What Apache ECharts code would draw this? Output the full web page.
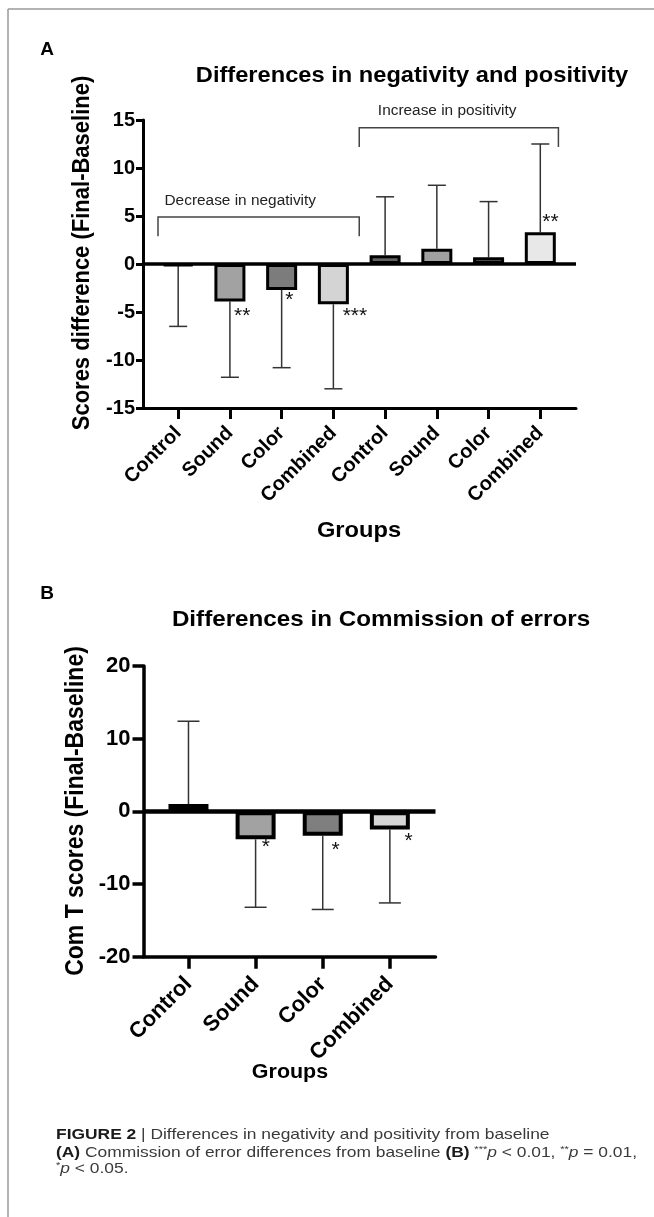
<!DOCTYPE html>
<html>
<head>
<meta charset="utf-8">
<script src="https://cdn.jsdelivr.net/npm/echarts@6/dist/echarts.min.js"></script>
<style>
html,body{margin:0;padding:0;background:#fff;}
#chart{width:654px;height:1217px;}
</style>
</head>
<body>
<div id="chart"></div>
<script>
// ---------- DATA ----------
const catsA = ['Control','Sound','Color','Combined','Control','Sound','Color','Combined'];
const meanA = [-0.2, -3.9, -2.7, -4.2, 0.9, 1.6, 0.7, 3.3];
const errEndA = [-6.5, -11.8, -10.8, -13.0, 7.0, 8.2, 6.5, 12.5];
const yTicksA = [-15, -10, -5, 0, 5, 10, 15];
const starTextA = ['**', '*', '***', '**'];
const starXA = [1.08, 2.07, 3.18, 7.04];
const starYA = [-5.4, -3.75, -5.4, 4.4];
const bracketLabelsA = ['Decrease in negativity', 'Increase in positivity'];
const bracketFromA = [-0.39, 3.5];
const bracketToA = [3.5, 7.35];
const bracketTopA = [4.9, 14.2];
const bracketEndA = [2.9, 12.2];
const bracketLabelXA = [1.2, 5.2];
const bracketLabelYA = [6.5, 15.9];

const catsB = ['Control','Sound','Color','Combined'];
const meanB = [1.0, -3.85, -3.35, -2.5];
const errEndB = [12.4, -13.2, -13.5, -12.6];
const yTicksB = [-20, -10, 0, 10, 20];
const starTextB = ['*', '*', '*'];
const starXB = [1.09, 2.13, 3.22];
const starYB = [-4.9, -5.3, -4.1];

const titleA = 'Differences in negativity and positivity';
const titleB = 'Differences in Commission of errors';
const yNameA = 'Scores difference (Final-Baseline)';
const yNameB = 'Com T scores (Final-Baseline)';
const xName = 'Groups';

// ---------- STYLE ----------
const FF = '"Liberation Sans", Arial, Helvetica, sans-serif';
const colorsA = ['#3a3a3a','#a2a2a2','#7c7c7c','#d4d4d4','#626262','#a0a0a0','#626262','#e8e8e8'];
const colorsB = ['#000000','#a2a2a2','#7f7f7f','#d6d6d6'];
const SX = 1.1; // the figure's text is slightly wide

const chart = echarts.init(document.getElementById('chart'), null, {renderer:'canvas'});

function xAxisCfg(grid, cats, min, max, fontSize, margin, tickLen, lw){
  const idx = cats.map((c,i)=>i);
  return {
    gridIndex: grid, type:'value', min:min, max:max,
    axisLine:{show:true, onZero:false, lineStyle:{color:'#000', width:lw}},
    axisTick:{show:true, customValues:idx, length:tickLen, lineStyle:{color:'#000', width:lw}},
    axisLabel:{customValues:idx, formatter:(v)=>cats[Math.round(v)], rotate:45, margin:margin,
      fontFamily:FF, fontWeight:'bold', fontSize:fontSize, color:'#000'},
    splitLine:{show:false}
  };
}
function yAxisCfg(grid, ticks, fontSize, margin, tickLen, lw){
  return {
    gridIndex: grid, type:'value', min:ticks[0], max:ticks[ticks.length-1], interval:ticks[1]-ticks[0],
    axisLine:{show:true, onZero:false, lineStyle:{color:'#000', width:lw}},
    axisTick:{show:true, length:tickLen, lineStyle:{color:'#000', width:lw}},
    axisLabel:{margin:margin, fontFamily:FF, fontWeight:'bold', fontSize:fontSize, color:'#000'},
    splitLine:{show:false}
  };
}
function barSeries(ai, means, colors, bw, border){
  return {
    type:'bar', xAxisIndex:ai, yAxisIndex:ai, barWidth:bw, z:3,
    data: means.map((v,i)=>({value:[i, v], itemStyle:{color:colors[i]}})),
    itemStyle:{borderColor:'#000', borderWidth:border},
    emphasis:{disabled:true},
    markLine:{silent:true, symbol:['none','none'], label:{show:false}, animation:false,
      lineStyle:{color:'#000', width:border+0.5, type:'solid'}, data:[{yAxis:0}], z:5}
  };
}
function errSeries(ai, means, ends, cap){
  return {
    type:'custom', xAxisIndex:ai, yAxisIndex:ai, z:2, clip:false,
    data: means.map((v,i)=>[i, v, ends[i]]),
    renderItem:(params, api)=>{
      const p0 = api.coord([api.value(0), api.value(1)]);
      const p1 = api.coord([api.value(0), api.value(2)]);
      const st = {stroke:'#333', lineWidth:1.5};
      return {type:'group', children:[
        {type:'line', shape:{x1:p0[0], y1:p0[1], x2:p1[0], y2:p1[1]}, style:st},
        {type:'line', shape:{x1:p1[0]-cap/2, y1:p1[1], x2:p1[0]+cap/2, y2:p1[1]}, style:st}
      ]};
    }
  };
}
function starSeries(ai, xs, ys, texts, fs){
  return {
    type:'custom', xAxisIndex:ai, yAxisIndex:ai, z:6, clip:false,
    data: xs.map((x,i)=>[x, ys[i]]),
    renderItem:(params, api)=>{
      const p = api.coord([api.value(0), api.value(1)]);
      return {type:'text', x:p[0], y:p[1], style:{text:texts[params.dataIndex], fontFamily:FF, fontSize:fs, fill:'#111', align:'left', verticalAlign:'middle'}};
    }
  };
}
const bracketSeries = {
  type:'custom', xAxisIndex:0, yAxisIndex:0, z:6, clip:false,
  data: bracketFromA.map((f,i)=>[f, bracketToA[i], bracketTopA[i], bracketEndA[i], bracketLabelXA[i], bracketLabelYA[i]]),
  renderItem:(params, api)=>{
    const x0 = api.value(0), x1 = api.value(1), yt = api.value(2), ye = api.value(3);
    const pts = [api.coord([x0, ye]), api.coord([x0, yt]), api.coord([x1, yt]), api.coord([x1, ye])];
    const lp = api.coord([api.value(4), api.value(5)]);
    return {type:'group', children:[
      {type:'polyline', shape:{points:pts}, style:{stroke:'#444', lineWidth:1.5, fill:null}},
      {type:'text', x:lp[0], y:lp[1], scaleX:SX, style:{text:bracketLabelsA[params.dataIndex], fontFamily:FF, fontSize:14, fill:'#222', align:'center', verticalAlign:'middle'}}
    ]};
  }
};

function txt(text, x, y, size, el){
  return Object.assign({type:'text', x:x, y:y, style:{text:text, fontFamily:FF, fontSize:size, fontWeight:'bold', fill:'#000', align:'center', verticalAlign:'middle'}}, el||{});
}

const CS = 15;
const capRich = {
  b:{fontFamily:FF, fontSize:CS, fontWeight:'bold', fill:'#1a1a1a'},
  i:{fontFamily:FF, fontSize:CS, fontStyle:'italic', fill:'#3a3a3a'},
  s:{fontFamily:FF, fontSize:9.5, fill:'#3a3a3a', padding:[0,0,7,0]}
};
function capLine(text, y){
  return {type:'text', x:56, y:y, scaleX:1.16, style:{text:text, rich:capRich, fontFamily:FF, fontSize:CS, fill:'#3a3a3a', align:'left', verticalAlign:'middle'}};
}

const option = {
  animation:false,
  backgroundColor:'#fff',
  grid:[
    {left:143, top:120, width:433, height:288},
    {left:143.5, top:666, width:292, height:290.7}
  ],
  xAxis:[
    xAxisCfg(0, catsA, -0.68, 7.69, 20, 22, 11, 3),
    xAxisCfg(1, catsB, -0.67, 3.68, 22, 24, 12, 3.5)
  ],
  yAxis:[
    yAxisCfg(0, yTicksA, 20, 8, 7, 3),
    yAxisCfg(1, yTicksB, 22, 13, 11, 3.5)
  ],
  series:[
    errSeries(0, meanA, errEndA, 18),
    barSeries(0, meanA, colorsA, 31, 3),
    starSeries(0, starXA, starYA, starTextA, 21),
    bracketSeries,
    errSeries(1, meanB, errEndB, 22),
    barSeries(1, meanB, colorsB, 40, 4),
    starSeries(1, starXB, starYB, starTextB, 21)
  ],
  graphic:[
    {type:'line', shape:{x1:8, y1:9, x2:654, y2:9}, style:{stroke:'#9a9a9a', lineWidth:1.5}},
    {type:'line', shape:{x1:8, y1:9, x2:8, y2:1217}, style:{stroke:'#9a9a9a', lineWidth:1.5}},
    txt('A', 47, 50, 19),
    txt(titleA, 412, 76, 21.5, {scaleX:SX}),
    txt(yNameA, 82, 253, 22, {rotation:Math.PI/2, scaleY:SX}),
    txt(xName, 359, 531, 21.5, {scaleX:SX}),
    txt('B', 47, 594, 19),
    txt(titleB, 381, 620, 22, {scaleX:SX}),
    txt(yNameB, 76, 811, 23, {rotation:Math.PI/2, scaleY:SX}),
    txt(xName, 290, 1073, 19.5, {scaleX:SX}),
    capLine('{b|FIGURE 2} | Differences in negativity and positivity from baseline', 1135),
    capLine('{b|(A)} Commission of error differences from baseline {b|(B)} {s|***}{i|p} < 0.01, {s|**}{i|p} = 0.01,', 1152.5),
    capLine('{s|*}{i|p} < 0.05.', 1169)
  ]
};
chart.setOption(option);
</script>
</body>
</html>
